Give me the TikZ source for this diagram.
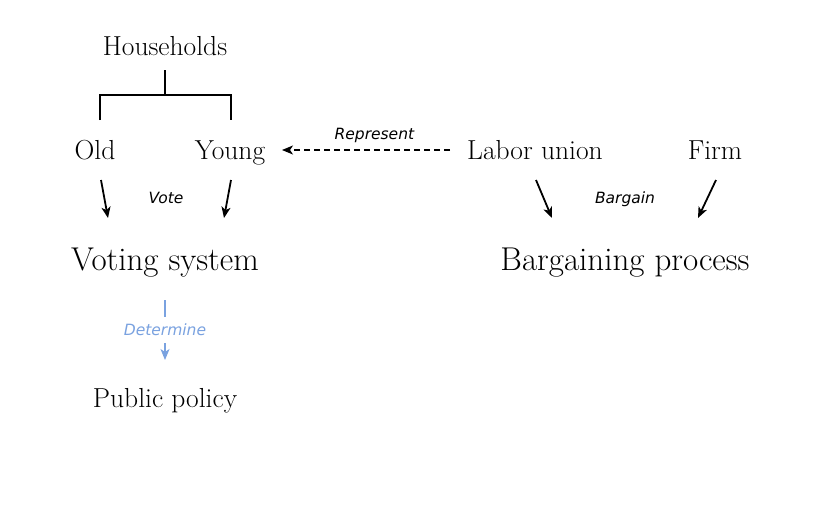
\documentclass[tikz,border=0pt]{standalone}
\usepackage{fontspec}
\usepackage{tikz}
\usetikzlibrary{arrows.meta}
\newfontfamily\lblfont{DejaVu Sans}
\definecolor{detblue}{RGB}{122,162,224}

\begin{document}
\begin{tikzpicture}[x=1pt, y=-1pt,
	main/.style = {anchor=base, inner sep=0pt, font=\fontsize{27.5}{33}\selectfont},
	big/.style = {anchor=base, inner sep=0pt, font=\fontsize{33}{40}\selectfont},
	lbl/.style = {inner sep=0pt, font=\lblfont\itshape\fontsize{15.5}{19}\selectfont},
	arr/.style = {line width=1.8pt, -{Stealth[length=11pt,width=9pt,inset=3pt]}}]
	\useasboundingbox (0,0) rectangle (821,531);
	\node[main] (hh) at (165,55) {Households};
	\node[main] (old) at (95,159) {Old};
	\node[main] (young) at (230,159) {Young};
	\node[main] (union) at (535,159) {Labor union};
	\node[main] (firm) at (715,159) {Firm};
	\node[big] (vote) at (165,270) {Voting system};
	\node[big] (barg) at (625,270) {Bargaining process};
	\node[main] (pub) at (165,407) {Public policy};
	\node[lbl, anchor=base] (votelbl) at (166,203) {Vote};
	\node[lbl, anchor=base] (barglbl) at (625,203) {Bargain};
	
	% household bracket
	\draw[line width=1.8pt] ([yshift=-15pt]hh.base) -- ++(0,25);
	\draw[line width=1.8pt] ([xshift=5pt,yshift=39pt]old.base) -- ++(0,-25) -| ([xshift=1pt,yshift=39pt]young.base);
	
	\draw[arr] ([xshift=6pt,yshift=-21pt]old.base) -- ([xshift=-57pt,yshift=52pt]vote.base);
	\draw[arr] ([xshift=1pt,yshift=-21pt]young.base) -- ([xshift=59pt,yshift=52pt]vote.base);
	\draw[arr] ([xshift=1pt,yshift=-21pt]union.base) -- ([xshift=-73pt,yshift=52pt]barg.base);
	\draw[arr] ([xshift=1pt,yshift=-21pt]firm.base) -- ([xshift=73pt,yshift=52pt]barg.base);
	\draw[arr, line width=1.5pt, dash pattern=on 6pt off 4pt] ([xshift=-85pt,yshift=9pt]union.base) -- node[lbl, pos=0.45, above=7pt] {Represent} ([xshift=52pt,yshift=9pt]young.base);
	\draw[arr, detblue, line width=1.5pt] ([yshift=-30pt]vote.base) -- node[lbl, fill=white, inner sep=7pt] {Determine} ([yshift=47pt]pub.base);
\end{tikzpicture}
\end{document}
